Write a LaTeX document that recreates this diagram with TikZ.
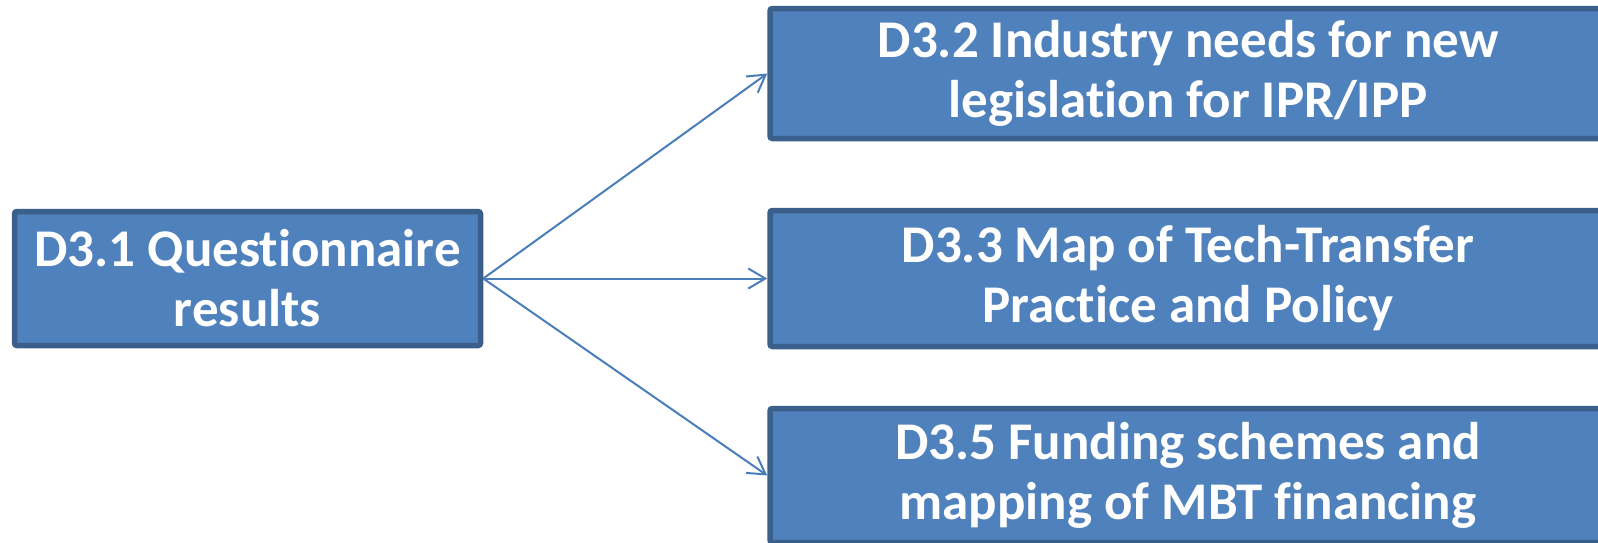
\documentclass[tikz,border=0pt]{standalone}
\usepackage{fontspec}
\setmainfont{Carlito}[Ligatures=NoCommon]
\usetikzlibrary{arrows.meta,positioning}
\definecolor{boxfill}{HTML}{4F81BD}
\definecolor{boxline}{HTML}{3A5F8B}
\definecolor{linkline}{HTML}{4A7EBB}
\tikzset{
  post/.style    = {-{Straight Barb[length=8.5pt,width=10pt]}, draw=linkline, line width=1pt},
  deliv/.style   = {draw=boxline, fill=boxfill, line width=2.75pt, rounded corners=1.2pt,
                    text=white, align=center, inner sep=0pt,
                    font=\fontsize{26.5}{30}\selectfont\bfseries},
  source/.style  = {deliv, minimum width=233pt, minimum height=67pt},
  target/.style  = {deliv, minimum width=418pt, minimum height=65pt}
}

\begin{document}
\begin{tikzpicture}[x=0.5pt, y=-0.5pt]
      \clip (0,0) rectangle (1598,542);
      \node[source] (q31) at (247.5,278.5) {D3.1 Questionnaire\\results};
      \node[target] (d32) at (1188,73.5) {D3.2 Industry needs for new\\legislation for IPR/IPP};
      \node[target, minimum height=68pt] (d33) at (1188,278.5) {D3.3 Map of Tech-Transfer\\Practice and Policy};
      \node[target, minimum height=67pt] (d35) at (1188,475.5) {D3.5 Funding schemes and\\mapping of MBT financing};
      \draw[post] (q31.east) -- (d32.west);
      \draw[post] (q31.east) -- (d33.west);
      \draw[post] (q31.east) -- (d35.west);
    \end{tikzpicture}
\end{document}
